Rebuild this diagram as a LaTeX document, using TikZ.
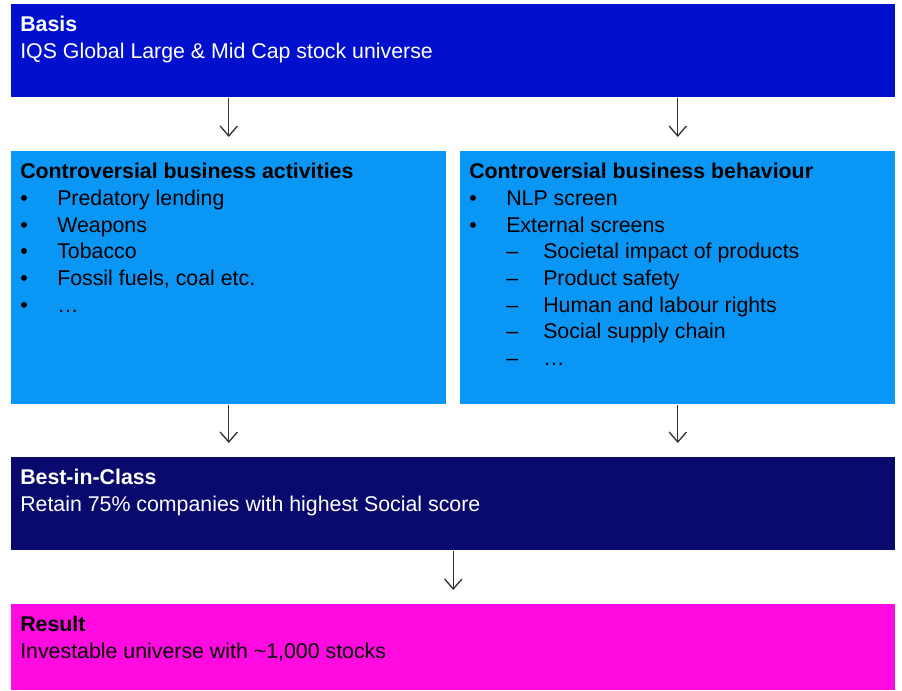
\documentclass[tikz,border=0pt]{standalone}
\usepackage{fontspec}
\setmainfont{Liberation Sans}
\usetikzlibrary{arrows.meta,positioning}
\definecolor{basisblue}{RGB}{0,16,204}
\definecolor{screenblue}{RGB}{10,150,245}
\definecolor{classnavy}{RGB}{10,10,110}
\definecolor{resultpink}{RGB}{255,10,225}
\def\bul#1{\makebox[27.75pt][l]{\textbullet}#1}
\def\subbul#1{\hspace*{27.75pt}\makebox[27.75pt][l]{--}#1}
\tikzset{
	box/.style={fill=#1, draw=none, anchor=north west, inner sep=0pt},
	boxtext/.style={anchor=north west, inner sep=0pt, align=left, font=\fontsize{16}{20}\selectfont},
	flow/.style={-{Straight Barb[length=7.5pt,width=13pt]}, line width=1pt, draw=black!80, shorten >=10.5pt}
}

\begin{document}
\begin{tikzpicture}[x=0.75pt, y=-0.75pt]
		%%%%% START %%%%%
		\useasboundingbox (0,0) rectangle (902,691);
		
		\node[box=basisblue, minimum width=663pt, minimum height=69.75pt] (basis) at (11,4) {};
		\node[box=screenblue, minimum width=326.25pt, minimum height=189.75pt] (activities) at (11,151) {};
		\node[box=screenblue, minimum width=326.25pt, minimum height=189.75pt] (behaviour) at (460,151) {};
		\node[box=classnavy, minimum width=663pt, minimum height=69.75pt] (bic) at (11,457) {};
		\node[box=resultpink, minimum width=663pt, minimum height=64.5pt] (result) at (11,604) {};
		
		\node[boxtext, text=white] (basisT) at ([shift={(9,12)}]basis.north west)
			{\textbf{Basis}\\IQS Global Large \& Mid Cap stock universe};
		\node[boxtext] (activitiesT) at ([shift={(9,12)}]activities.north west)
			{\textbf{Controversial business activities}\\
			\bul{Predatory lending}\\
			\bul{Weapons}\\
			\bul{Tobacco}\\
			\bul{Fossil fuels, coal etc.}\\
			\bul{…}};
		\node[boxtext] (behaviourT) at ([shift={(9,12)}]behaviour.north west)
			{\textbf{Controversial business behaviour}\\
			\bul{NLP screen}\\
			\bul{External screens}\\
			\subbul{Societal impact of products}\\
			\subbul{Product safety}\\
			\subbul{Human and labour rights}\\
			\subbul{Social supply chain}\\
			\subbul{…}};
		\node[boxtext, text=white] (bicT) at ([shift={(9,12)}]bic.north west)
			{\textbf{Best-in-Class}\\Retain 75\% companies with highest Social score};
		\node[boxtext] (resultT) at ([shift={(9,12)}]result.north west)
			{\textbf{Result}\\Investable universe with {\textasciitilde}1,000 stocks};
		
		% arrows between the steps
		\draw[flow] (basis.south -| activities.north) -- (activities.north);
		\draw[flow] (basis.south -| behaviour.north) -- (behaviour.north);
		\draw[flow] (activities.south) -- (activities.south |- bic.north);
		\draw[flow] (behaviour.south) -- (behaviour.south |- bic.north);
		\draw[flow] (bic.south) -- (result.north);
		
		%%%%% END %%%%%
	\end{tikzpicture}
\end{document}
